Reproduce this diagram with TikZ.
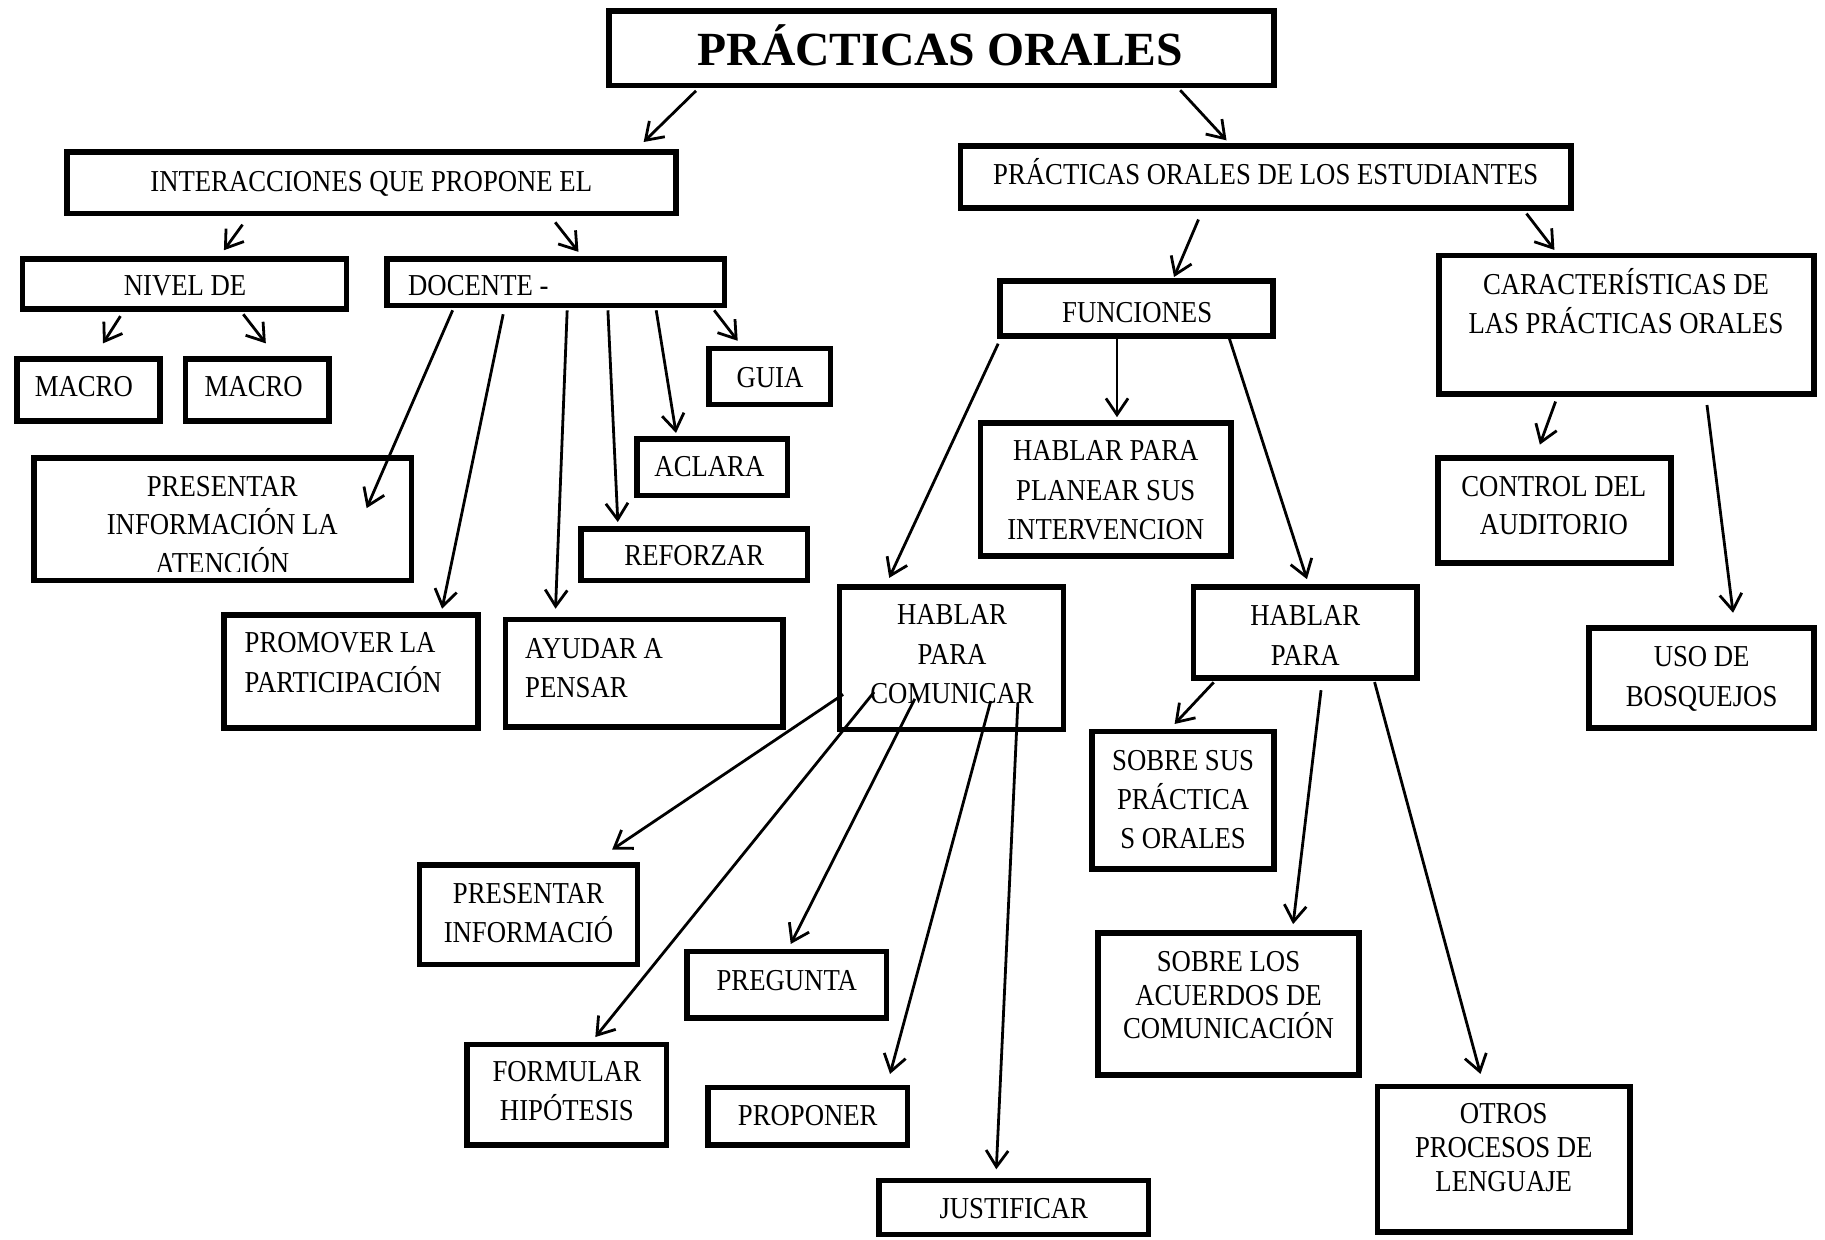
\documentclass[tikz,border=0pt]{standalone}
\usepackage{fontspec}
\setmainfont{Liberation Serif}[FakeStretch=0.88]
\newfontfamily\titlefont{Liberation Serif}
\usetikzlibrary{arrows.meta,calc}
\def\blw{4.8pt}
% box: name, left, top, right, bottom (outer edges, y downward)
\newcommand\bx[5]{\node[box, minimum width={(#4-#2)*1pt-\blw}, minimum height={(#5-#3)*1pt-\blw}] (#1) at ({(#2+#4)/2},{(#3+#5)/2}) {};}
% text lines: name, anchor, x, list of baseline/text
\newcommand\lines[4]{\foreach \lineY/\lineT [count=\i] in {#4} {\node[txt, anchor=#2] (#1-\i) at (#3,\lineY) {\lineT};}}
% connector: source, dx, dy (from source south west), target, dx, dy (from target north west)
\newcommand\conn[6]{\draw[arr] ($(#1.south west)+(#2,#3)$) -- ($(#4.north west)+(#5,#6)$);}
\begin{document}
\begin{tikzpicture}[x=1pt,y=-1pt,
  box/.style={draw, line width=\blw, rectangle, inner sep=0pt},
  txt/.style={font=\fontsize{26.1}{33.7}\selectfont, inner sep=0pt},
  ttl/.style={font=\titlefont\bfseries\fontsize{40.9}{48}\selectfont, inner sep=0pt},
  arr/.style={line width=2.4pt, -{Straight Barb[length=14pt,width=19pt]}}]
\path[fill=white, use as bounding box] (0,0) rectangle (1568,1065);

% ---------- boxes ----------
\bx{title}{521}{7}{1097}{76}
\bx{inter}{55}{128}{583}{186}
\bx{est}{823}{123}{1352}{181}
\bx{nivel}{17}{220}{300}{268}
\bx{docente}{330}{220}{625}{265}
\bx{macroA}{12}{306}{140}{364}
\bx{macroB}{157}{306}{285}{364}
\bx{guia}{607}{297}{716}{350}
\bx{aclara}{545}{375}{679}{428}
\bx{reforzar}{497}{452}{696}{501}
\bx{atencion}{27}{391}{356}{501}
\bx{promover}{190}{526}{413}{628}
\bx{ayudar}{432}{530}{675}{627}
\bx{comunicar}{719}{502}{916}{629}
\bx{presinfo}{358}{741}{550}{831}
\bx{pregunta}{588}{815}{764}{877}
\bx{formular}{399}{895}{575}{986}
\bx{proponer}{606}{932}{782}{986}
\bx{justificar}{753}{1012}{989}{1063}
\bx{funciones}{857}{239}{1096}{291}
\bx{planear}{840}{361}{1060}{480}
\bx{caract}{1234}{217}{1561}{341}
\bx{control}{1233}{391}{1438}{486}
\bx{paraB}{1023}{502}{1220}{585}
\bx{uso}{1363}{537}{1561}{628}
\bx{sobresus}{936}{626}{1097}{749}
\bx{acuerdos}{941}{799}{1170}{926}
\bx{otros}{1181}{931}{1403}{1061}

% ---------- texts ----------
\node[ttl, anchor=base] (title-t) at (808,56) {PRÁCTICAS ORALES};
\lines{inter-t}{base}{319}{164.6/INTERACCIONES QUE PROPONE EL}
\lines{est-t}{base}{1087.5}{158.6/PRÁCTICAS ORALES DE LOS ESTUDIANTES}
\lines{nivel-t}{base}{159}{254/NIVEL DE}
\lines{docente-t}{base west}{350.5}{254/DOCENTE -}
\lines{macroA-t}{base}{72}{341/MACRO}
\lines{macroB-t}{base}{218}{341/MACRO}
\lines{guia-t}{base}{661.5}{332.5/GUIA}
\lines{aclara-t}{base}{609.5}{409.5/ACLARA}
\lines{reforzar-t}{base}{596.5}{486/REFORZAR}
\begin{scope}
\clip (27,391) rectangle (356,491);
\lines{atencion-t}{base}{191}{426.6/PRESENTAR, 459.6/INFORMACIÓN LA, 492.6/ATENCIÓN}
\end{scope}
\lines{promover-t}{base west}{210}{560.6/PROMOVER LA, 594.6/PARTICIPACIÓN}
\lines{ayudar-t}{base west}{451}{565.6/AYUDAR A, 599.6/PENSAR}
\lines{comunicar-t}{base}{818}{536.6/HABLAR, 570.6/PARA, 604.6/COMUNICAR}
\lines{presinfo-t}{base}{454}{776.6/PRESENTAR, 809.6/INFORMACIÓ}
\lines{pregunta-t}{base}{676}{850.6/PREGUNTA}
\lines{formular-t}{base}{487}{929.6/FORMULAR, 962.6/HIPÓTESIS}
\lines{proponer-t}{base}{694}{966.6/PROPONER}
\lines{justificar-t}{base}{871}{1046.6/JUSTIFICAR}
\lines{funciones-t}{base}{977}{277/FUNCIONES}
\lines{planear-t}{base}{950}{395.6/HABLAR PARA, 429.6/PLANEAR SUS, 463.6/INTERVENCION}
\lines{caract-t}{base}{1397}{252.6/CARACTERÍSTICAS DE, 286.6/LAS PRÁCTICAS ORALES}
\lines{control-t}{base}{1335}{426.6/CONTROL DEL, 459.6/AUDITORIO}
\lines{paraB-t}{base}{1121.5}{537.6/HABLAR, 571.6/PARA}
\lines{uso-t}{base}{1462}{572.6/USO DE, 606.6/BOSQUEJOS}
\lines{sobresus-t}{base}{1016.5}{661.6/SOBRE SUS, 695.6/PRÁCTICA, 728.6/S ORALES}
\lines{acuerdos-t}{base}{1055.5}{834.6/SOBRE LOS, 863.6/ACUERDOS DE, 892.6/COMUNICACIÓN}
\lines{otros-t}{base}{1292}{965.6/OTROS, 994.6/PROCESOS DE, 1023.6/LENGUAJE}

% ---------- connectors ----------
\conn{title}{77}{2}{inter}{498}{-6}
\conn{title}{493}{1.5}{est}{230.8}{-2.4}
\conn{inter}{153.4}{7}{nivel}{175.4}{-5}
\conn{inter}{422}{5}{docente}{167}{-3.6}
\conn{nivel}{86.5}{3.6}{macroA}{76.5}{-11}
\conn{nivel}{192}{2}{macroB}{71.4}{-11}
\conn{docente}{283.6}{1.6}{guia}{26.8}{-4.2}
\conn{docente}{233.8}{1.6}{aclara}{35.8}{-3}
\conn{docente}{192.3}{1.6}{reforzar}{33.8}{-3.5}
\conn{docente}{157.3}{1.6}{ayudar}{45.3}{-7}
\conn{docente}{102.3}{5}{promover}{189.8}{-3}
\conn{docente}{58.9}{1.6}{atencion}{288}{45.6}
\conn{est}{206.7}{7.6}{funciones}{151.7}{-1}
\conn{est}{488.5}{2.5}{caract}{101.5}{-2.3}
\conn{funciones}{102.7}{0}{planear}{119.7}{-2.6}
\conn{funciones}{199.3}{0}{paraB}{99.9}{-4.4}
\conn{funciones}{0.6}{4.3}{comunicar}{45}{-5.5}
\conn{caract}{102.5}{4}{control}{90}{-9}
\conn{caract}{232.6}{7}{uso}{126}{-10.5}
\conn{comunicar}{5.4}{-32.4}{presinfo}{167.9}{-11}
\conn{comunicar}{32}{-34.4}{formular}{112.5}{-4}
\conn{comunicar}{67}{-28.6}{pregunta}{91.4}{-4}
\conn{comunicar}{132.2}{-26.7}{proponer}{158.7}{-9.3}
\conn{comunicar}{155.5}{-25}{justificar}{103}{-7.4}
\conn{paraB}{19.8}{1.2}{sobresus}{73.2}{-4}
\conn{paraB}{112}{8}{acuerdos}{170}{-5}
\conn{paraB}{158}{1}{otros}{91}{-8.3}
\end{tikzpicture}
\end{document}
